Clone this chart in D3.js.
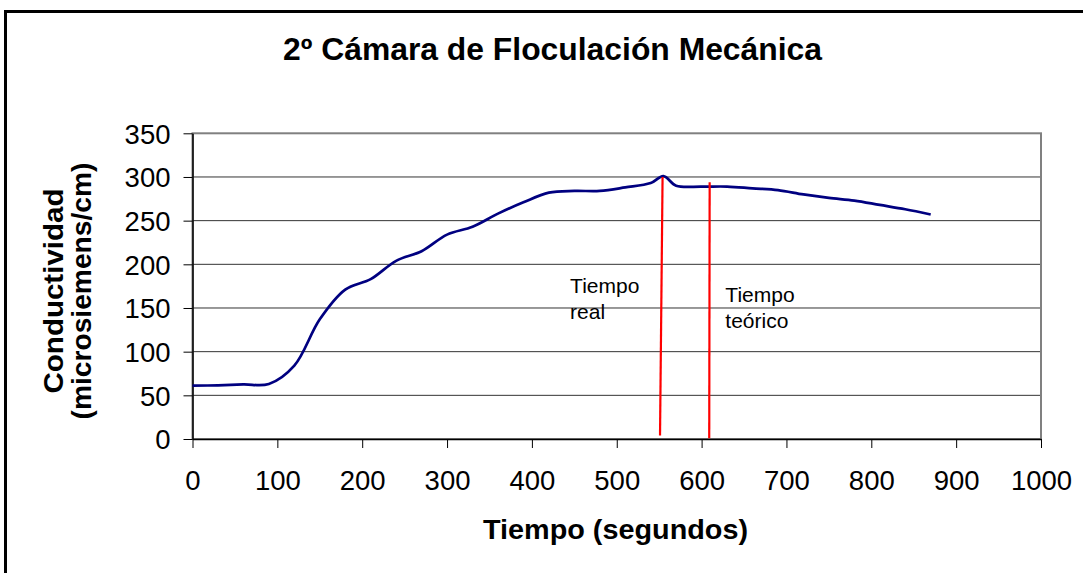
<!DOCTYPE html>
<html>
<head>
<meta charset="utf-8">
<script src="https://cdn.jsdelivr.net/npm/d3@7"></script>
<style>
  body { margin: 0; background: #fff; }
  text { font-family: "Liberation Sans", Arial, sans-serif; }
</style>
</head>
<body>
<svg id="chart" width="1083" height="573"></svg>
<script>
// values
var tiempo = [0, 30, 60, 90, 120, 150, 180, 210, 240, 270, 300, 330, 360, 390, 420, 450, 480, 510, 540, 555, 570, 600, 630, 660, 690, 720, 750, 780, 810, 840, 870];
var conductividad = [61, 61.5, 62.5, 63, 84, 137, 171, 183, 204, 215, 234, 243, 258, 271, 282, 284, 284, 288, 293, 301, 290, 289, 289, 287, 285, 280, 276, 273, 268, 263, 257];
var xTicks = [0, 100, 200, 300, 400, 500, 600, 700, 800, 900, 1000];
var yTicks = [0, 50, 100, 150, 200, 250, 300, 350];
var redLines = [
    [[554, 300], [551, 4]],
    [[609.5, 294], [609, 1]]
];
var notes = [
    {x: 445, y: 167, lines: ["Tiempo", "real"]},
    {x: 628, y: 157, lines: ["Tiempo", "teórico"]}
];

var svg = d3.select("#chart");
var margin = {top: 133.3, right: 42, bottom: 134, left: 192.5},
    width = 1083 - margin.left - margin.right,
    height = 573 - margin.top - margin.bottom;

// outer frame
svg.append("rect")
    .attr("x", 5.5).attr("y", 11.5)
    .attr("width", 1200).attr("height", 700)
    .attr("fill", "none")
    .attr("stroke", "#000")
    .attr("stroke-width", 3);

var g = svg.append("g").attr("transform", "translate(" + margin.left + "," + margin.top + ")");

var x = d3.scaleLinear().domain([0, 1000]).range([0, width]);
var y = d3.scaleLinear().domain([0, 350]).range([height, 0]);

// gridlines
g.selectAll(".grid")
    .data(yTicks.filter(function(d) { return d > 0 && d < 350; }))
    .enter().append("line")
    .attr("x1", 0).attr("x2", width)
    .attr("y1", function(d) { return y(d); })
    .attr("y2", function(d) { return y(d); })
    .attr("stroke", "#333")
    .attr("stroke-width", 1);

// plot area border
g.append("rect")
    .attr("width", width).attr("height", height)
    .attr("fill", "none")
    .attr("stroke", "#808080")
    .attr("stroke-width", 2);

var xAxis = g.append("g")
    .attr("transform", "translate(0," + height + ")")
    .call(d3.axisBottom(x).tickValues(xTicks).tickFormat(d3.format("d")).tickSize(9).tickSizeOuter(0));
xAxis.select(".domain").attr("stroke", "#000").attr("stroke-width", 1.5);
xAxis.selectAll(".tick line").attr("stroke", "#000");
xAxis.selectAll("text")
    .attr("y", 50.5).attr("dy", 0)
    .attr("fill", "#000")
    .style("font-size", "27.5px")
    .style("font-family", "Liberation Sans, Arial, sans-serif");

var yAxis = g.append("g")
    .call(d3.axisLeft(y).tickValues(yTicks).tickSize(9).tickSizeOuter(0));
yAxis.select(".domain").attr("stroke", "#000").attr("stroke-width", 1.5);
yAxis.selectAll(".tick line").attr("stroke", "#000");
yAxis.selectAll("text")
    .attr("x", -22).attr("dy", "0.36em")
    .attr("fill", "#000")
    .style("font-size", "27.5px")
    .style("font-family", "Liberation Sans, Arial, sans-serif");

// series
var line = d3.line()
    .x(function(d, i) { return x(tiempo[i]); })
    .y(function(d) { return y(d); })
    .curve(d3.curveCatmullRom);

g.append("path")
    .datum(conductividad)
    .attr("fill", "none")
    .attr("stroke", "#000080")
    .attr("stroke-width", 2.7)
    .attr("stroke-linejoin", "round")
    .attr("d", line);

// marker lines
var seg = d3.line()
    .x(function(d) { return x(d[0]); })
    .y(function(d) { return y(d[1]); });

g.selectAll(".marker")
    .data(redLines)
    .enter().append("path")
    .attr("d", seg)
    .attr("stroke", "#ff0000")
    .attr("stroke-width", 2.2)
    .attr("fill", "none");

// annotations
notes.forEach(function(n) {
    var t = g.append("text")
        .attr("x", x(n.x))
        .attr("y", y(n.y))
        .attr("fill", "#000")
        .style("font-size", "21px");
    n.lines.forEach(function(l, i) {
        t.append("tspan")
            .attr("x", x(n.x))
            .attr("dy", i === 0 ? 0 : 26)
            .text(l);
    });
});

// titles
svg.append("text")
    .attr("x", 552.5).attr("y", 60)
    .attr("text-anchor", "middle")
    .attr("font-weight", "bold")
    .style("font-size", "31px")
    .text("2º Cámara de Floculación Mecánica")
    .attr("textLength", 539).attr("lengthAdjust", "spacingAndGlyphs");

svg.append("text")
    .attr("x", 615.5).attr("y", 539)
    .attr("text-anchor", "middle")
    .attr("font-weight", "bold")
    .style("font-size", "27px")
    .text("Tiempo (segundos)")
    .attr("textLength", 265).attr("lengthAdjust", "spacingAndGlyphs");

var yt = svg.append("text")
    .attr("transform", "translate(0,291) rotate(-90)")
    .attr("text-anchor", "middle")
    .attr("font-weight", "bold")
    .style("font-size", "27px");
yt.append("tspan").attr("x", 0).attr("y", 63).text("Conductividad")
    .attr("textLength", 205).attr("lengthAdjust", "spacingAndGlyphs");
yt.append("tspan").attr("x", 0).attr("y", 91).text("(microsiemens/cm)")
    .attr("textLength", 257).attr("lengthAdjust", "spacingAndGlyphs");
</script>
</body>
</html>
